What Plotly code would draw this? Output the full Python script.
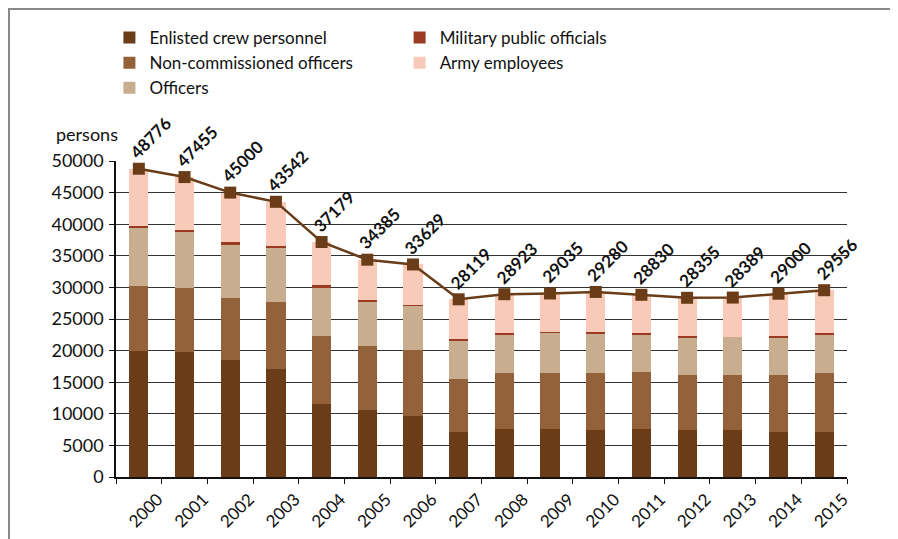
import plotly.graph_objects as go

years = ["2000", "2001", "2002", "2003", "2004", "2005", "2006", "2007",
         "2008", "2009", "2010", "2011", "2012", "2013", "2014", "2015"]
enlisted = [20000, 19800, 18500, 17100, 11500, 10550, 9650, 7150,
            7600, 7600, 7400, 7600, 7400, 7400, 7150, 7150]
nco = [10200, 10150, 9850, 10600, 10800, 10150, 10400, 8350,
       8800, 8800, 9000, 9050, 8750, 8750, 9000, 9250]
officers = [9300, 8870, 8390, 8610, 7710, 7020, 7020, 6130,
            6170, 6430, 6380, 5920, 5920, 6020, 5920, 6170]
mil_public = [260, 270, 430, 260, 310, 220, 160, 160,
              260, 90, 210, 210, 210, 40, 210, 260]
army_employees = [9016, 8365, 7830, 6972, 6859, 6445, 6399, 6329,
                  6093, 6115, 6290, 6050, 6075, 6179, 6720, 6726]
totals = [48776, 47455, 45000, 43542, 37179, 34385, 33629, 28119,
          28923, 29035, 29280, 28830, 28355, 28389, 29000, 29556]
y_ticks = [0, 5000, 10000, 15000, 20000, 25000, 30000, 35000, 40000, 45000, 50000]

FONT = "Lato"
LINE_C = "#6A3D18"

fig = go.Figure()
series = [
    ("Enlisted crew personnel", enlisted, "#6A3D18", "legend"),
    ("Non-commissioned officers", nco, "#93613A", "legend"),
    ("Officers", officers, "#C9AD8F", "legend"),
    ("Military public officials", mil_public, "#9B3B24", "legend2"),
    ("Army employees", army_employees, "#F8CAB7", "legend2"),
]
for name, vals, col, lg in series:
    fig.add_trace(go.Bar(x=years, y=vals, name=name, marker_color=col,
                         marker_line_width=0, legend=lg))

fig.add_trace(go.Scatter(x=years, y=totals, mode="lines+markers", showlegend=False,
                         line=dict(color=LINE_C, width=2.5),
                         marker=dict(symbol="square", size=12, color=LINE_C)))

for i, t in enumerate(totals):
    fig.add_annotation(x=i, y=t, text=f"<b>{t}</b>", showarrow=False, textangle=-45,
                       xanchor="center", yanchor="middle", xshift=12, yshift=31,
                       font=dict(family=FONT, size=17, color="#111"))

fig.add_annotation(xref="paper", yref="paper", x=0.006, y=1.043, text="persons",
                   showarrow=False, xanchor="right", yanchor="bottom",
                   font=dict(family=FONT, size=18, color="#111"))

# frame lines
fig.add_shape(type="line", xref="paper", yref="paper", x0=-0.16, x1=1.1, y0=1.481, y1=1.481,
              line=dict(color="#888", width=2))
fig.add_shape(type="line", xref="paper", yref="paper", x0=-0.1464, x1=-0.1464, y0=1.49, y1=-0.23,
              line=dict(color="#888", width=2))

fig.update_layout(
    width=898, height=539,
    margin=dict(l=108, r=59, t=153, b=70),
    barmode="stack", bargap=0.58,
    plot_bgcolor="white", paper_bgcolor="white",
    font=dict(family=FONT, size=18, color="#111"),
    legend=dict(x=-0.009, y=1.446, xanchor="left", yanchor="top", orientation="v",
                font=dict(family=FONT, size=17), traceorder="normal", itemwidth=30,
                tracegroupgap=0, bgcolor="rgba(0,0,0,0)"),
    legend2=dict(x=0.388, y=1.446, xanchor="left", yanchor="top", orientation="v",
                 font=dict(family=FONT, size=17), traceorder="normal", itemwidth=30,
                 bgcolor="rgba(0,0,0,0)"),
    xaxis=dict(type="category", range=[-0.5, 15.5], autorange=False, tickangle=-45,
               tickson="boundaries", ticks="outside", automargin=False,
               ticklabelshift=19, ticklabelstandoff=4,
               ticklen=5, tickcolor="#111", showline=True, linecolor="#111", linewidth=1.5,
               tickfont=dict(family=FONT, size=17, color="#111"), showgrid=False),
    yaxis=dict(range=[0, 50000], autorange=False, tickvals=y_ticks, tickformat="d",
               ticks="outside", ticklen=5, automargin=False, ticklabelstandoff=2,
               tickcolor="#111", showline=True, linecolor="#111", linewidth=1.5,
               showgrid=True, gridcolor="#333", gridwidth=1.3, zeroline=False,
               tickfont=dict(family=FONT, size=18, color="#111")),
)

fig.write_html("out.html")
